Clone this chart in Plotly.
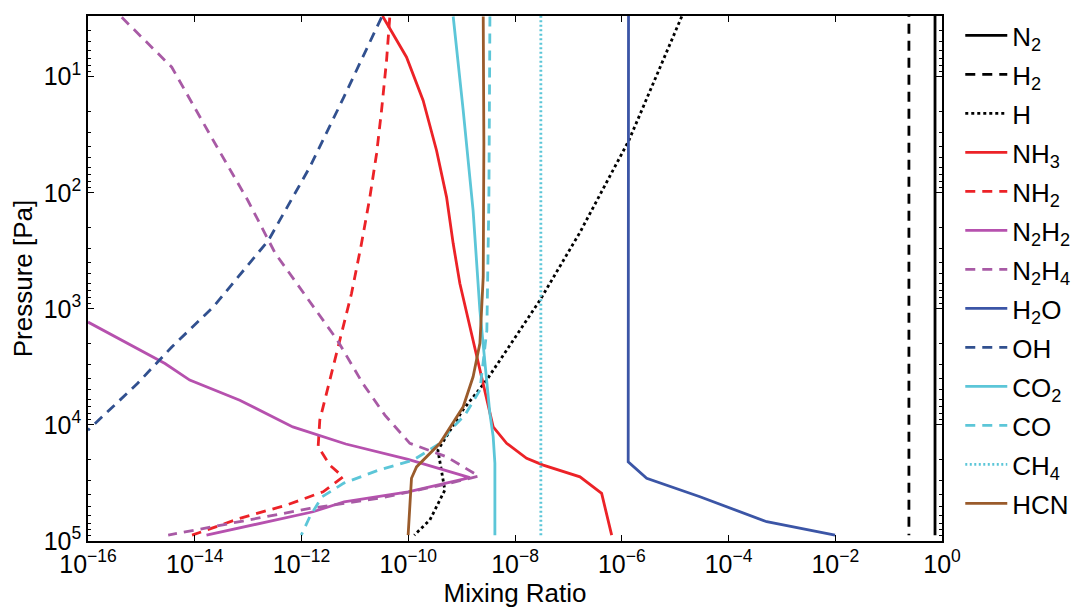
import plotly.graph_objects as go

# ---------------- data (mixing ratio vs pressure [Pa]) ----------------
N2_x = [0.74, 0.74]
N2_p = [2.5, 8.9e4]

H2_x = [0.24, 0.24]
H2_p = [2.5, 8.9e4]

H_x = [1.33e-5, 1.36e-6, 1.65e-7, 2.93e-8, 2.94e-9, 1.05e-9, 3.59e-10, 4.5e-10, 4.85e-10, 2.54e-10, 1.3e-10]
H_p = [3.03, 35.4, 219, 843, 4110, 7460, 16500, 29900, 36400, 65900, 8.9e4]

NH3_x = [3.3e-11, 9.29e-11, 1.90e-10, 3.39e-10, 5.22e-10, 6.95e-10, 9.27e-10, 1.43e-9, 2.20e-9,
         3.15e-9, 3.90e-9, 6.97e-9, 1.65e-8, 3.38e-8, 1.65e-7, 4.20e-7, 6.47e-7]
NH3_p = [3.0, 6.79, 16.0, 43.2, 109, 274, 605, 1430, 3370,
         7160, 10400, 14400, 19400, 22200, 28000, 38900, 8.9e4]

NH2_x = [4.5e-11, 3.92e-11, 3.16e-11, 2.55e-11, 1.91e-11, 1.33e-11, 8.65e-12, 5.22e-12, 3.39e-12,
         2.20e-12, 2.05e-12, 3.39e-12, 6.03e-12, 2.54e-12, 5.24e-13, 6.97e-14, 8.9e-15]
NH2_p = [3.1, 7.26, 19.5, 46.1, 109, 274, 738, 1860, 4110,
         9100, 15400, 22200, 28000, 37700, 49000, 63800, 8.9e4]

N2H2_x = [1.0e-16, 2.77e-15, 8.05e-15, 6.97e-14, 6.87e-13, 6.76e-12, 9.95e-11, 1.43e-9,
          9.95e-11, 6.31e-12, 1.65e-12, 1.66e-14]
N2H2_p = [1300, 2960, 4110, 6120, 10400, 14600, 19800, 28400,
          37700, 45900, 56000, 8.9e4]

N2H4_x = [4.29e-16, 3.71e-15, 2.22e-14, 9.84e-14, 3.23e-13, 1.49e-12, 4.69e-12, 1.41e-11, 3.65e-11,
          1.07e-10, 5.22e-10, 2.10e-9, 5.22e-10, 2.94e-11, 1.43e-12, 7.94e-14, 3.18e-15]
N2H4_p = [3.08, 8.28, 35.4, 116, 333, 895, 1860, 4400, 8240,
          14400, 18800, 27600, 32300, 42700, 52400, 67300, 8.9e4]

H2O_x = [1.34e-6, 1.32e-6, 2.93e-6, 2.92e-5, 5.20e-4, 9.9e-3]
H2O_p = [2.5, 20800, 28800, 41600, 68200, 8.9e4]

OH_x = [3.16e-11, 6.21e-12, 1.43e-12, 2.40e-13, 2.22e-14, 3.71e-15, 8.43e-16, 1.0e-16]
OH_p = [3.08, 15.0, 60.1, 257, 964, 2130, 4400, 11100]

CO2_x = [6.95e-10, 1.07e-9, 1.64e-9, 2.20e-9, 2.94e-9, 3.38e-9, 3.90e-9, 4.20e-9, 4.20e-9]
CO2_p = [3.03, 19.5, 142, 1030, 4110, 7960, 12600, 21400, 8.9e4]

CO_x = [3.39e-9, 3.24e-9, 2.97e-9, 2.20e-9, 1.15e-9, 6.58e-10, 3.92e-10, 1.24e-10, 2.79e-11,
        6.21e-12, 2.40e-12, 1.43e-12, 9.9e-13]
CO_p = [3.03, 116, 1530, 5010, 8240, 10700, 14400, 20100, 24500,
        31700, 41800, 61800, 8.9e4]

CH4_x = [3.05e-8, 3.05e-8]
CH4_p = [2.5, 8.9e4]

HCN_x = [2.54e-9, 2.61e-9, 2.54e-9, 2.20e-9, 1.64e-9, 1.07e-9, 3.92e-10, 1.43e-10, 1.15e-10, 9.95e-11]
HCN_p = [3.03, 37.6, 531, 1980, 3850, 6980, 14400, 23000, 28800, 8.9e4]

x_tickvals = [1e-16, 1e-14, 1e-12, 1e-10, 1e-8, 1e-6, 1e-4, 1e-2, 1e0]
x_ticktext = ["10<sup>\u221216</sup>", "10<sup>\u221214</sup>", "10<sup>\u221212</sup>",
              "10<sup>\u221210</sup>", "10<sup>\u22128</sup>", "10<sup>\u22126</sup>",
              "10<sup>\u22124</sup>", "10<sup>\u22122</sup>", "10<sup>0</sup>"]
y_tickvals = [1e1, 1e2, 1e3, 1e4, 1e5]
y_ticktext = ["10<sup>1</sup>", "10<sup>2</sup>", "10<sup>3</sup>", "10<sup>4</sup>", "10<sup>5</sup>"]

# ---------------- styles ----------------
RED = "#ec2227"
MAG = "#b651ae"
MAG2 = "#a85aa5"
BLUE = "#3b55a6"
BLUE2 = "#31508f"
CYAN = "#5cc6d8"
BROWN = "#9a5b2b"
BLK = "#000000"
W = 2.8

series = [
    ("N<sub>2</sub>", N2_x, N2_p, BLK, "solid"),
    ("H<sub>2</sub>", H2_x, H2_p, BLK, "10px,7px"),
    ("H", H_x, H_p, BLK, "3px,3px"),
    ("NH<sub>3</sub>", NH3_x, NH3_p, RED, "solid"),
    ("NH<sub>2</sub>", NH2_x, NH2_p, RED, "10px,7px"),
    ("N<sub>2</sub>H<sub>2</sub>", N2H2_x, N2H2_p, MAG, "solid"),
    ("N<sub>2</sub>H<sub>4</sub>", N2H4_x, N2H4_p, MAG2, "10px,7px"),
    ("H<sub>2</sub>O", H2O_x, H2O_p, BLUE, "solid"),
    ("OH", OH_x, OH_p, BLUE2, "10px,7px"),
    ("CO<sub>2</sub>", CO2_x, CO2_p, CYAN, "solid"),
    ("CO", CO_x, CO_p, CYAN, "10px,7px"),
    ("CH<sub>4</sub>", CH4_x, CH4_p, CYAN, "2px,2.5px"),
    ("HCN", HCN_x, HCN_p, BROWN, "solid"),
]

fig = go.Figure()
for i, (name, xs, ps, col, dash) in enumerate(series):
    fig.add_trace(go.Scatter(
        x=xs, y=ps, mode="lines", name=name,
        legendgroup="g%d" % i,
        line=dict(color=col, width=W, dash=dash),
    ))

FONT = "Liberation Sans, Arial, Helvetica, sans-serif"

fig.update_layout(
    width=1077, height=608,
    margin=dict(l=88, r=135, t=16, b=67, autoexpand=False),
    paper_bgcolor="white", plot_bgcolor="white",
    font=dict(family=FONT, size=25, color="black"),
    showlegend=True,
    legend=dict(
        x=1.0214, y=1.0076, xanchor="left", yanchor="top",
        font=dict(family=FONT, size=26, color="black"),
        tracegroupgap=2.2, itemwidth=42, maxheight=600,
        bgcolor="rgba(0,0,0,0)", borderwidth=0,
    ),
)

fig.update_xaxes(
    type="log", range=[-16, 0],
    tickvals=x_tickvals, ticktext=x_ticktext,
    showgrid=False, zeroline=False,
    showline=True, linecolor="black", linewidth=1.5, mirror="allticks",
    ticks="inside", ticklen=6, tickcolor="black", tickwidth=1,
    tickfont=dict(size=25),
    title=dict(text="Mixing Ratio", font=dict(size=26), standoff=12),
    automargin=False,
)
fig.update_yaxes(
    type="log", range=[5, 0.477],
    tickvals=y_tickvals, ticktext=y_ticktext,
    showgrid=False, zeroline=False,
    showline=True, linecolor="black", linewidth=1.5, mirror="allticks",
    ticks="inside", ticklen=6, tickcolor="black", tickwidth=1,
    minor=dict(ticks="inside", ticklen=3, tickcolor="black", dtick="D1", showgrid=False),
    tickfont=dict(size=25),
    title=dict(text="Pressure [Pa]", font=dict(size=26), standoff=4),
    automargin=False,
)

fig.write_html("out.html")
